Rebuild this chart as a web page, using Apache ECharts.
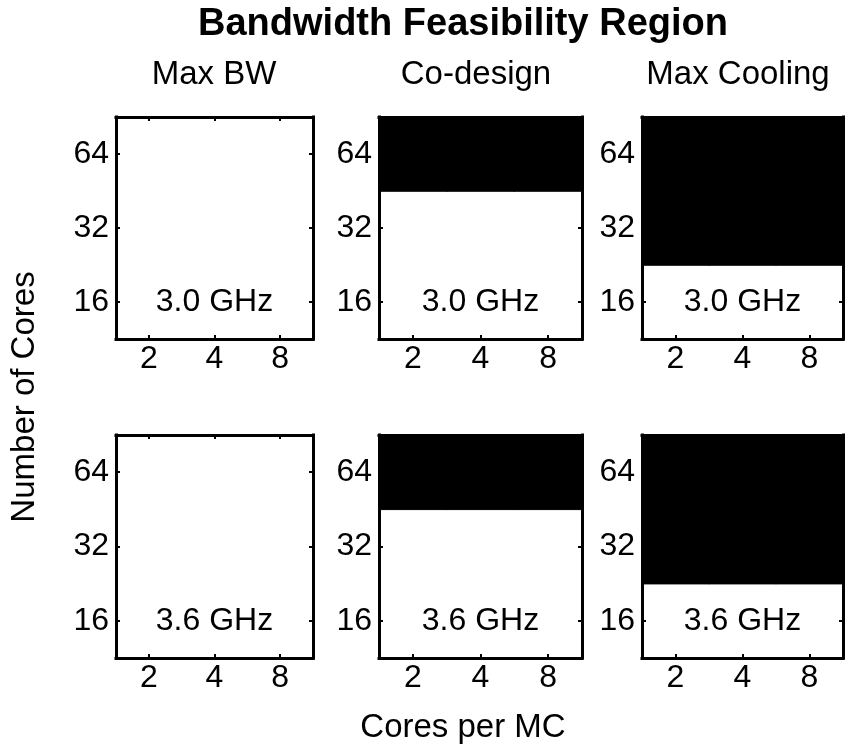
<!DOCTYPE html>
<html>
<head>
<meta charset="utf-8">
<title>Bandwidth Feasibility Region</title>
<script src="https://cdn.jsdelivr.net/npm/echarts@6/dist/echarts.min.js"></script>
<style>
  html, body { margin: 0; padding: 0; background: #fff; }
  #chart { width: 847px; height: 750px; }
</style>
</head>
<body>
<div id="chart"></div>
<script>
// Axis categories (log2-spaced design points)
const coresPerMC = ['2', '4', '8'];
const numCores = ['16', '32', '64'];

const columnTitles = ['Max BW', 'Co-design', 'Max Cooling'];
const freqLabels = ['3.0 GHz', '3.6 GHz'];

// Infeasibility flags (1 = infeasible, drawn black).
// Rows: 16, 32, 64 cores; columns: 2, 4, 8 cores per MC.
const maxBW_30 = [[0, 0, 0], [0, 0, 0], [0, 0, 0]];
const coDesign_30 = [[0, 0, 0], [0, 0, 0], [1, 1, 1]];
const maxCooling_30 = [[0, 0, 0], [1, 1, 1], [1, 1, 1]];
const maxBW_36 = [[0, 0, 0], [0, 0, 0], [0, 0, 0]];
const coDesign_36 = [[0, 0, 0], [0, 0, 0], [1, 1, 1]];
const maxCooling_36 = [[0, 0, 0], [1, 1, 1], [1, 1, 1]];

const panels = [
  [maxBW_30, coDesign_30, maxCooling_30],
  [maxBW_36, coDesign_36, maxCooling_36]
];

const FONT = '"Liberation Sans", Arial, Helvetica, sans-serif';
const colLeft = [116, 379, 642];
const colWidth = [197, 203, 201];
const rowTop = [117, 435];
const rowHeight = [222, 223];

const grids = [], xAxes = [], yAxes = [], series = [], heatIdx = [];

function frameLine() {
  return { show: true, onZero: false, lineStyle: { color: '#000', width: 3, cap: 'square' } };
}
function innerTicks() {
  return { show: true, inside: true, alignWithLabel: true, length: 4, lineStyle: { color: '#000', width: 2 } };
}

for (let r = 0; r < 2; r++) {
  for (let c = 0; c < 3; c++) {
    const g = grids.length;
    grids.push({ left: colLeft[c], top: rowTop[r], width: colWidth[c], height: rowHeight[r], containLabel: false });
    xAxes.push({
      type: 'category', gridIndex: g, data: coresPerMC, position: 'bottom', z: 5,
      axisLine: frameLine(), axisTick: innerTicks(), splitLine: { show: false },
      axisLabel: { color: '#000', fontSize: 32, fontFamily: FONT, margin: 4 }
    });
    xAxes.push({
      type: 'category', gridIndex: g, data: coresPerMC, position: 'top', z: 5,
      axisLine: frameLine(), axisTick: innerTicks(), splitLine: { show: false },
      axisLabel: { show: false }
    });
    yAxes.push({
      type: 'category', gridIndex: g, data: numCores, position: 'left', z: 5,
      axisLine: frameLine(), axisTick: innerTicks(), splitLine: { show: false },
      axisLabel: { color: '#000', fontSize: 32, fontFamily: FONT, margin: 7 }
    });
    yAxes.push({
      type: 'category', gridIndex: g, data: numCores, position: 'right', z: 5,
      axisLine: frameLine(), axisTick: innerTicks(), splitLine: { show: false },
      axisLabel: { show: false }
    });

    const flags = panels[r][c];
    const cells = [];
    for (let yi = 0; yi < numCores.length; yi++) {
      for (let xi = 0; xi < coresPerMC.length; xi++) {
        const v = flags[yi][xi];
        // a thin matching border closes the hairline seams between adjacent infeasible cells
        cells.push({
          value: [xi, yi, v],
          itemStyle: v ? { borderColor: '#000', borderWidth: 1 } : { borderWidth: 0 }
        });
      }
    }
    heatIdx.push(series.length);
    series.push({
      type: 'heatmap', xAxisIndex: 2 * g, yAxisIndex: 2 * g, data: cells,
      emphasis: { disabled: true }, silent: true
    });
    // Clock frequency tag, anchored at the 4 cores/MC, 16 cores cell
    series.push({
      type: 'scatter', xAxisIndex: 2 * g, yAxisIndex: 2 * g,
      data: [['4', '16']], symbolSize: 1,
      itemStyle: { color: 'transparent', opacity: 1 }, silent: true,
      label: {
        show: true, position: 'inside', formatter: freqLabels[r],
        color: '#000', opacity: 1, fontSize: 32, fontFamily: FONT
      },
      z: 4
    });
  }
}

const textStyle = (size, weight) => ({
  fill: '#000', fontSize: size, fontFamily: FONT, fontWeight: weight || 'normal',
  align: 'center', verticalAlign: 'middle'
});

const graphics = [
  { type: 'text', x: 463, y: 25, style: Object.assign({ text: 'Bandwidth Feasibility Region' }, textStyle(38, 'bold')) },
  { type: 'text', x: 214, y: 75, style: Object.assign({ text: columnTitles[0] }, textStyle(33)) },
  { type: 'text', x: 476, y: 75, style: Object.assign({ text: columnTitles[1] }, textStyle(33)) },
  { type: 'text', x: 738, y: 75, style: Object.assign({ text: columnTitles[2] }, textStyle(33)) },
  { type: 'text', x: 25, y: 397, rotation: Math.PI / 2, style: Object.assign({ text: 'Number of Cores' }, textStyle(33)) },
  { type: 'text', x: 463, y: 728, style: Object.assign({ text: 'Cores per MC' }, textStyle(33)) }
];

const chart = echarts.init(document.getElementById('chart'), null, { renderer: 'canvas' });
chart.setOption({
  animation: false,
  backgroundColor: '#fff',
  grid: grids,
  xAxis: xAxes,
  yAxis: yAxes,
  visualMap: {
    type: 'piecewise', show: false, seriesIndex: heatIdx, dimension: 2,
    pieces: [{ value: 0, color: '#ffffff' }, { value: 1, color: '#000000' }]
  },
  graphic: graphics,
  series: series
});
</script>
</body>
</html>
